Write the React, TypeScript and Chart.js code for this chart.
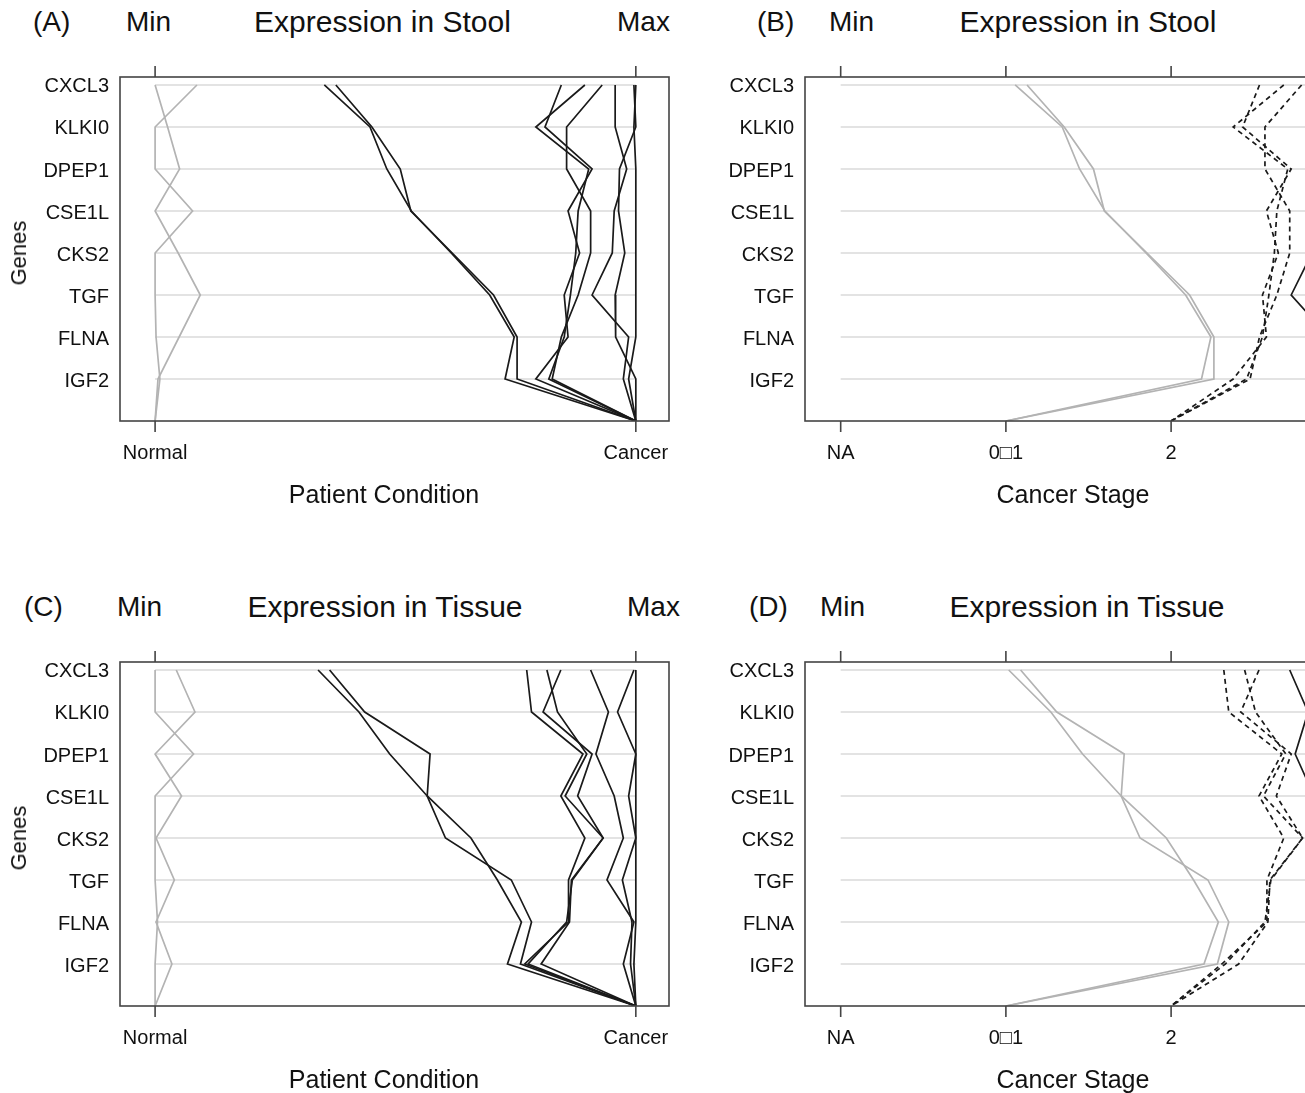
import React, { useEffect, useRef } from 'react';
import { Chart, registerables } from 'chart.js';

Chart.register(...registerables);

// ---------------- data ----------------
const genes = ['CXCL3', 'KLKI0', 'DPEP1', 'CSE1L', 'CKS2', 'TGF', 'FLNA', 'IGF2'];

const conditionTickLabels = ['Normal', 'Cancer'];
const conditionTickValues = [0, 1];
const stageTickLabels = ['NA', '0\u25A11', '2', '3'];
const stageTickValues = [0, 1 / 3, 2 / 3, 1];

// Stool (normalised expression, Min = 0 .. Max = 1), one value per gene
const stoolNormal1 = [0.0, 0.026, 0.051, 0.0, 0.048, 0.094, 0.05, 0.006];
const stoolNormal2 = [0.087, 0.0, 0.0, 0.078, 0.0, 0.0, 0.002, 0.01];
const stoolStage01a = [0.352, 0.447, 0.482, 0.533, 0.616, 0.696, 0.747, 0.728];
const stoolStage01b = [0.376, 0.451, 0.51, 0.532, 0.618, 0.704, 0.753, 0.753];
const stoolStage2a = [0.845, 0.811, 0.909, 0.859, 0.883, 0.851, 0.859, 0.792];
const stoolStage2b = [0.894, 0.792, 0.902, 0.88, 0.875, 0.864, 0.851, 0.819];
const stoolStage2c = [0.93, 0.856, 0.856, 0.906, 0.906, 0.88, 0.845, 0.826];
const stoolStage3a = [0.957, 0.957, 0.981, 0.955, 0.951, 0.909, 0.985, 0.974];
const stoolStage3b = [0.996, 1.0, 0.966, 0.964, 0.977, 0.957, 0.958, 1.0];
const stoolStage3c = [1.0, 0.996, 1.0, 1.0, 1.0, 1.0, 1.0, 0.985];

// Tissue
const tissueNormal1 = [0.044, 0.083, 0.0, 0.055, 0.002, 0.04, 0.002, 0.035];
const tissueNormal2 = [0.0, 0.0, 0.08, 0.0, 0.0, 0.0, 0.005, 0.0];
const tissueStage01a = [0.339, 0.424, 0.488, 0.566, 0.657, 0.712, 0.762, 0.733];
const tissueStage01b = [0.363, 0.436, 0.572, 0.566, 0.604, 0.741, 0.783, 0.76];
const tissueStage2a = [0.773, 0.783, 0.89, 0.844, 0.894, 0.86, 0.86, 0.769];
const tissueStage2b = [0.815, 0.837, 0.898, 0.853, 0.932, 0.868, 0.856, 0.776];
const tissueStage2c = [0.844, 0.807, 0.909, 0.879, 0.932, 0.866, 0.862, 0.803];
const tissueStage3a = [0.906, 0.943, 0.917, 0.955, 0.974, 0.94, 0.996, 0.974];
const tissueStage3b = [0.996, 0.962, 1.0, 0.985, 1.0, 0.972, 0.992, 0.989];
const tissueStage3c = [1.0, 1.0, 1.0, 1.0, 1.0, 1.0, 1.0, 0.996];

const stoolNormal = [stoolNormal1, stoolNormal2];
const stoolStage01 = [stoolStage01a, stoolStage01b];
const stoolStage2 = [stoolStage2a, stoolStage2b, stoolStage2c];
const stoolStage3 = [stoolStage3a, stoolStage3b, stoolStage3c];
const tissueNormal = [tissueNormal1, tissueNormal2];
const tissueStage01 = [tissueStage01a, tissueStage01b];
const tissueStage2 = [tissueStage2a, tissueStage2b, tissueStage2c];
const tissueStage3 = [tissueStage3a, tissueStage3b, tissueStage3c];

// ---------------- styles ----------------
const FONT = "'Liberation Sans', Arial, Helvetica, sans-serif";
const GRAY = '#b3b3b3';
const BLACK = '#1a1a1a';

type Series = { values: number[]; end: number; color: string; dash: boolean };

function group(list: number[][], end: number, color: string, dash: boolean): Series[] {
  return list.map((values) => ({ values, end, color, dash }));
}

const framePlugin = {
  id: 'frameTicks',
  beforeDatasetsDraw(chart: any) {
    const { ctx, scales } = chart;
    const x = scales.x;
    const y = scales.y;
    ctx.save();
    ctx.strokeStyle = '#e3e3e3';
    ctx.lineWidth = 2;
    genes.forEach((_, i) => {
      const py = y.getPixelForValue(i);
      ctx.beginPath();
      ctx.moveTo(x.getPixelForValue(0), py);
      ctx.lineTo(x.getPixelForValue(1), py);
      ctx.stroke();
    });
    ctx.restore();
  },
  afterDatasetsDraw(chart: any) {
    const { ctx, chartArea: a, scales } = chart;
    const x = scales.x;
    ctx.save();
    ctx.strokeStyle = '#444';
    ctx.lineWidth = 1.6;
    ctx.strokeRect(a.left, a.top, a.right - a.left, a.bottom - a.top);
    x.ticks.forEach((t: any) => {
      const px = x.getPixelForValue(t.value);
      ctx.beginPath();
      ctx.moveTo(px, a.top - 11);
      ctx.lineTo(px, a.top);
      ctx.moveTo(px, a.bottom);
      ctx.lineTo(px, a.bottom + 11);
      ctx.stroke();
    });
    ctx.restore();
  },
};

type PanelSpec = {
  left: number;
  top: number;
  width: number;
  height: number;
  yAxisW: number;
  padTop: number;
  padRight: number;
  padBottom: number;
  xMin: number;
  xMax: number;
  tickValues: number[];
  tickLabels: string[];
  series: Series[];
};

function Panel({ spec }: { spec: PanelSpec }) {
  const ref = useRef<HTMLCanvasElement | null>(null);
  useEffect(() => {
    if (!ref.current) return;
    const datasets = spec.series.map((s) => ({
      data: [...s.values.map((v, i) => ({ x: v, y: i })), { x: s.end, y: genes.length }],
      showLine: true,
      borderColor: s.color,
      backgroundColor: s.color,
      borderWidth: 1.7,
      borderDash: s.dash ? [5, 4] : [],
      pointRadius: 0,
      pointHoverRadius: 0,
      fill: false,
      tension: 0,
    }));
    const chart = new Chart(ref.current, {
      type: 'scatter',
      data: { datasets },
      options: {
        animation: false,
        responsive: false,
        maintainAspectRatio: false,
        events: [],
        layout: { padding: { left: 0, top: spec.padTop, right: spec.padRight, bottom: spec.padBottom } },
        plugins: { legend: { display: false }, tooltip: { enabled: false }, title: { display: false } },
        scales: {
          x: {
            type: 'linear',
            position: 'bottom',
            min: spec.xMin,
            max: spec.xMax,
            afterBuildTicks: (s: any) => {
              s.ticks = spec.tickValues.map((v) => ({ value: v }));
            },
            afterFit: (s: any) => {
              s.height = 50;
            },
            grid: { display: false, drawTicks: false },
            border: { display: false },
            ticks: {
              autoSkip: false,
              maxRotation: 0,
              minRotation: 0,
              padding: 20,
              color: '#111',
              font: { family: FONT, size: 20 },
              callback: (_v: any, i: number) => spec.tickLabels[i],
            },
          },
          y: {
            type: 'linear',
            min: -0.19,
            max: genes.length,
            reverse: true,
            afterBuildTicks: (s: any) => {
              s.ticks = genes.map((_, i) => ({ value: i }));
            },
            afterFit: (s: any) => {
              s.width = spec.yAxisW;
            },
            grid: { display: false, drawTicks: false },
            border: { display: false },
            ticks: {
              autoSkip: false,
              padding: 11,
              labelOffset: 2,
              color: '#111',
              font: { family: FONT, size: 20 },
              callback: (_v: any, i: number) => genes[i],
            },
          },
        },
      } as any,
      plugins: [framePlugin],
    });
    return () => chart.destroy();
  }, []);
  return (
    <canvas
      ref={ref}
      width={spec.width}
      height={spec.height}
      style={{ position: 'absolute', left: spec.left, top: spec.top, width: spec.width, height: spec.height }}
    />
  );
}

function Txt({ x, base, size, text, center }: { x: number; base: number; size: number; text: string; center?: boolean }) {
  return (
    <div
      style={{
        position: 'absolute',
        left: x,
        top: base - 0.8465 * size,
        fontSize: size,
        lineHeight: 1,
        fontFamily: FONT,
        color: '#111',
        whiteSpace: 'nowrap',
        transform: center ? 'translateX(-50%)' : undefined,
      }}
    >
      {text}
    </div>
  );
}

function VTxt({ x, y, size, text }: { x: number; y: number; size: number; text: string }) {
  return (
    <div
      style={{
        position: 'absolute',
        left: x,
        top: y,
        fontSize: size,
        lineHeight: 1,
        fontFamily: FONT,
        color: '#111',
        whiteSpace: 'nowrap',
        transform: 'translate(-50%, -50%) rotate(-90deg)',
      }}
    >
      {text}
    </div>
  );
}

const OFF = 585;

function conditionPanel(top: number, normal: number[][], cancer: number[][]): PanelSpec {
  return {
    left: 0,
    top,
    width: 700,
    height: 480,
    yAxisW: 120,
    padTop: 37,
    padRight: 31,
    padBottom: 49,
    xMin: -0.073,
    xMax: 1.069,
    tickValues: conditionTickValues,
    tickLabels: conditionTickLabels,
    series: [...group(normal, conditionTickValues[0], GRAY, false), ...group(cancer, conditionTickValues[1], BLACK, false)],
  };
}

function stagePanel(top: number, s01: number[][], s2: number[][], s3: number[][]): PanelSpec {
  return {
    left: 720,
    top,
    width: 700,
    height: 480,
    yAxisW: 85,
    padTop: 37,
    padRight: 48,
    padBottom: 49,
    xMin: -0.072,
    xMax: 1.072,
    tickValues: stageTickValues,
    tickLabels: stageTickLabels,
    series: [
      ...group(s01, stageTickValues[1], GRAY, false),
      ...group(s2, stageTickValues[2], BLACK, true),
      ...group(s3, stageTickValues[3], BLACK, false),
    ],
  };
}

const panelA = conditionPanel(40, stoolNormal, [...stoolStage01, ...stoolStage2, ...stoolStage3]);
const panelB = stagePanel(40, stoolStage01, stoolStage2, stoolStage3);
const panelC = conditionPanel(40 + OFF, tissueNormal, [...tissueStage01, ...tissueStage2, ...tissueStage3]);
const panelD = stagePanel(40 + OFF, tissueStage01, tissueStage2, tissueStage3);

export default function App() {
  return (
    <div
      style={{
        position: 'fixed',
        left: 0,
        top: 0,
        width: 1305,
        height: 1093,
        overflow: 'hidden',
        background: '#fff',
      }}
    >
      <Panel spec={panelA} />
      <Panel spec={panelB} />
      <Panel spec={panelC} />
      <Panel spec={panelD} />

      {/* headers A/B */}
      <Txt x={33} base={32} size={28} text="(A)" />
      <Txt x={126} base={32} size={28} text="Min" />
      <Txt x={382.5} base={32} size={30} text="Expression in Stool" center />
      <Txt x={617} base={32} size={28} text="Max" />
      <Txt x={757} base={32} size={28} text="(B)" />
      <Txt x={829} base={32} size={28} text="Min" />
      <Txt x={1088} base={32} size={30} text="Expression in Stool" center />

      {/* headers C/D */}
      <Txt x={24} base={32 + OFF} size={28} text="(C)" />
      <Txt x={117} base={32 + OFF} size={28} text="Min" />
      <Txt x={385} base={32 + OFF} size={30} text="Expression in Tissue" center />
      <Txt x={627} base={32 + OFF} size={28} text="Max" />
      <Txt x={749} base={32 + OFF} size={28} text="(D)" />
      <Txt x={820} base={32 + OFF} size={28} text="Min" />
      <Txt x={1087} base={32 + OFF} size={30} text="Expression in Tissue" center />

      {/* axis titles */}
      <Txt x={384} base={503} size={25} text="Patient Condition" center />
      <Txt x={1073} base={503} size={25} text="Cancer Stage" center />
      <Txt x={384} base={503 + OFF} size={25} text="Patient Condition" center />
      <Txt x={1073} base={503 + OFF} size={25} text="Cancer Stage" center />
      <VTxt x={19} y={253} size={22} text="Genes" />
      <VTxt x={19} y={253 + OFF} size={22} text="Genes" />
    </div>
  );
}
